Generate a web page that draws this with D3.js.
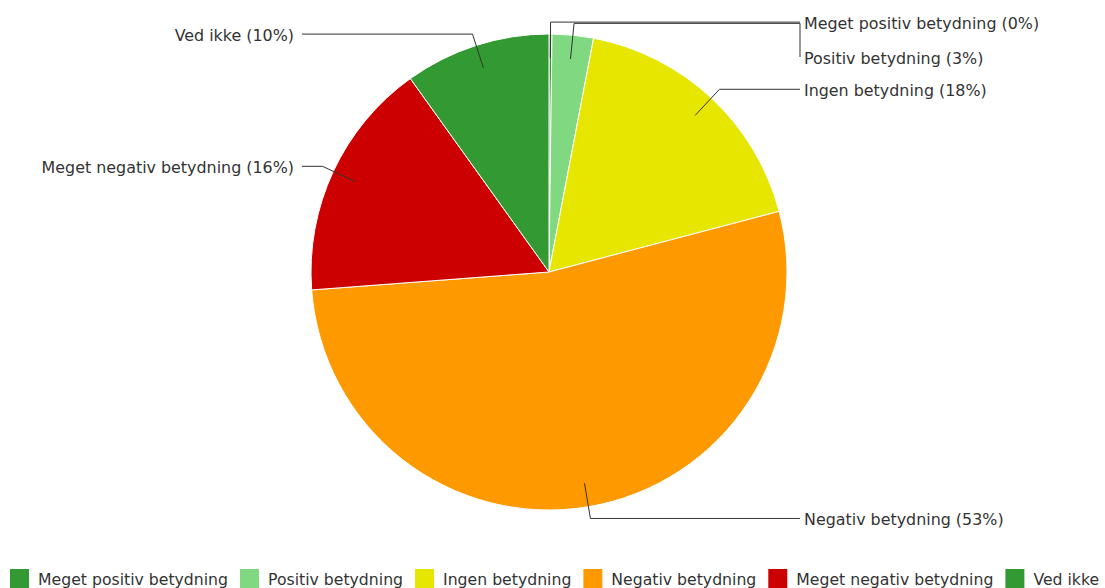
<!DOCTYPE html>
<html><head><meta charset="utf-8">
<script src="https://cdn.jsdelivr.net/npm/d3@7"></script>
<style>html,body{margin:0;padding:0;background:#fff;overflow:hidden}svg{display:block}</style>
</head><body>
<svg id="c" width="1105" height="588"></svg>
<script>
const categories = ["Meget positiv betydning","Positiv betydning","Ingen betydning","Negativ betydning","Meget negativ betydning","Ved ikke"];
const values = [0.2, 2.8, 17.9, 52.9, 16.3, 9.9];
const percentLabels = ["0%","3%","18%","53%","16%","10%"];
const colors = ["#339933","#80d880","#e6e600","#ff9900","#cc0000","#339933"];
// label layout overrides (y of label where it was moved to avoid overlap)
const labelYOverride = [null, 58, null, null, null, null];

const W = 1105, H = 588;
const cx = 549, cy = 272, R = 238;
const font = "DejaVu Sans, Verdana, sans-serif";
const fs = 15.9, lfs = 15.7;
const svg = d3.select("#c");

const pie = d3.pie().sort(null).value(d => d);
const arcs = pie(values);
const arc = d3.arc().innerRadius(0).outerRadius(R);

const g = svg.append("g").attr("transform", `translate(${cx},${cy})`);
g.selectAll("path.slice").data(arcs).join("path")
  .attr("class","slice")
  .attr("d", arc)
  .attr("fill", (d,i) => colors[i])
  .attr("stroke", "#fff").attr("stroke-width", 1);

// labels + connectors
const rightX = 800, leftX = 302;
arcs.forEach((a,i) => {
  const mid = (a.startAngle + a.endAngle)/2;
  const px = cx + 0.9*R*Math.sin(mid), py = cy - 0.9*R*Math.cos(mid);
  const ex = cx + 1.05*R*Math.sin(mid), ey = cy - 1.05*R*Math.cos(mid);
  const right = Math.sin(mid) >= 0;
  const hx = right ? rightX : leftX;
  const ly = labelYOverride[i] != null ? labelYOverride[i] : ey + 1;
  let pts = [[px,py],[ex,ey],[hx,ey]];
  if (labelYOverride[i] != null) pts.push([hx, ly - 1]);
  svg.append("path")
    .attr("d", d3.line()(pts))
    .attr("fill","none").attr("stroke","#333").attr("stroke-width",1);
  svg.append("text")
    .attr("x", right ? hx + 4 : hx - 8)
    .attr("y", ly)
    .attr("dy","0.35em")
    .attr("text-anchor", right ? "start" : "end")
    .attr("font-family", font).attr("font-size", fs).attr("fill","#333")
    .text(`${categories[i]} (${percentLabels[i]})`);
});

// legend
let lx = 10;
const ly0 = 569;
categories.forEach((c,i) => {
  svg.append("rect").attr("x", lx).attr("y", ly0).attr("width", 19).attr("height", 19).attr("fill", colors[i]);
  const t = svg.append("text").attr("x", lx + 28).attr("y", ly0 + 16)
    .attr("font-family", font).attr("font-size", lfs).attr("fill","#333").text(c);
  lx += 28 + t.node().getComputedTextLength() + 12;
});
</script>
</body></html>
